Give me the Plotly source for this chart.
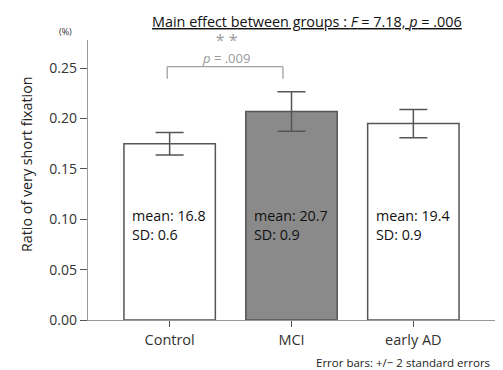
import plotly.graph_objects as go

groups = ["Control", "MCI", "early AD"]
means = [0.175, 0.207, 0.195]
errors = [0.0112, 0.0195, 0.0140]
mean_labels = ["mean: 16.8", "mean: 20.7", "mean: 19.4"]
sd_labels = ["SD: 0.6", "SD: 0.9", "SD: 0.9"]
fill_colors = ["white", "#8a8a8a", "white"]
y_ticks = [0.00, 0.05, 0.10, 0.15, 0.20, 0.25]

FONT = "Open Sans"
TXT = "#333333"
BAR_W = 0.75

# page body has an 8px default margin; compensate
OFF = 8
W, H = 503 - OFF, 370 - OFF
L, R, T, B = 88 - OFF, 8, 40 - OFF, 50

fig = go.Figure()
fig.add_trace(go.Bar(
    x=list(range(len(groups))), y=means, width=BAR_W,
    marker=dict(color=fill_colors, line=dict(color="#555555", width=1.5)),
    error_y=dict(type="data", array=errors, visible=True, color="#555555",
                 thickness=1.5, width=14),
    showlegend=False, hoverinfo="skip",
))

ann = []
for i in range(len(groups)):
    ann.append(dict(x=i - BAR_W / 2, y=0.104, xref="x", yref="y", text=mean_labels[i],
                    showarrow=False, xanchor="left", yanchor="middle", xshift=6,
                    font=dict(family=FONT, size=14.3, color="#111")))
    ann.append(dict(x=i - BAR_W / 2, y=0.0845, xref="x", yref="y", text=sd_labels[i],
                    showarrow=False, xanchor="left", yanchor="middle", xshift=6,
                    font=dict(family=FONT, size=14.3, color="#111")))

# pixel-positioned texts (reference page coordinates)
pix = [
    dict(x=226, y=48, text="<span style='font-size:16px'>* *</span><br><i>p</i> = .009",
         size=13, color="#9a9a9a", xanchor="center", angle=0),
    dict(x=307, y=21, text="<u>Main effect between groups : <i>F</i> = 7.18, <i>p</i> = .006</u>",
         size=14.4, color="#111", xanchor="center", angle=0),
    dict(x=65, y=31, text="(%)", size=9, color="#333", xanchor="center", angle=0),
    dict(x=492, y=362, text="Error bars: +/\u2212 2 standard errors", size=11.5, color="#222",
         xanchor="right", angle=0),
    dict(x=26, y=164, text="Ratio of very short fixation", size=14.3, color="#222",
         xanchor="center", angle=-90),
]
for p in pix:
    ann.append(dict(
        x=(p["x"] - OFF - L) / (W - L - R), y=1 - (p["y"] - OFF - T) / (H - T - B),
        xref="paper", yref="paper", text=p["text"], showarrow=False,
        xanchor=p["xanchor"], yanchor="middle", textangle=p["angle"],
        font=dict(family=FONT, size=p["size"], color=p["color"])))

fig.update_layout(
    width=W, height=H, margin=dict(l=L, r=R, t=T, b=B),
    plot_bgcolor="white", paper_bgcolor="white",
    annotations=ann,
    shapes=[
        dict(type="line", xref="x", yref="y", x0=-0.02, x1=0.93, y0=0.2515, y1=0.2515,
             line=dict(color="#a0a0a0", width=1.3)),
        dict(type="line", xref="x", yref="y", x0=-0.02, x1=-0.02, y0=0.2515, y1=0.2395,
             line=dict(color="#a0a0a0", width=1.3)),
        dict(type="line", xref="x", yref="y", x0=0.93, x1=0.93, y0=0.2515, y1=0.2395,
             line=dict(color="#a0a0a0", width=1.3)),
    ],
    xaxis=dict(range=[-0.67, 2.67], tickvals=list(range(len(groups))), ticktext=groups,
               showline=True, linecolor="#999999", linewidth=1.3, ticks="outside",
               ticklen=6, tickcolor="#555", showgrid=False, zeroline=False,
               tickfont=dict(family=FONT, size=14.5, color=TXT)),
    yaxis=dict(range=[0, 0.278], tickvals=y_ticks, ticktext=[f"{v:.2f}" for v in y_ticks],
               showline=True, linecolor="#999999", linewidth=1.3, ticks="outside",
               ticklen=7, tickcolor="#555", showgrid=False, zeroline=False,
               tickfont=dict(family=FONT, size=14, color=TXT)),
)

fig.write_html("out.html")
